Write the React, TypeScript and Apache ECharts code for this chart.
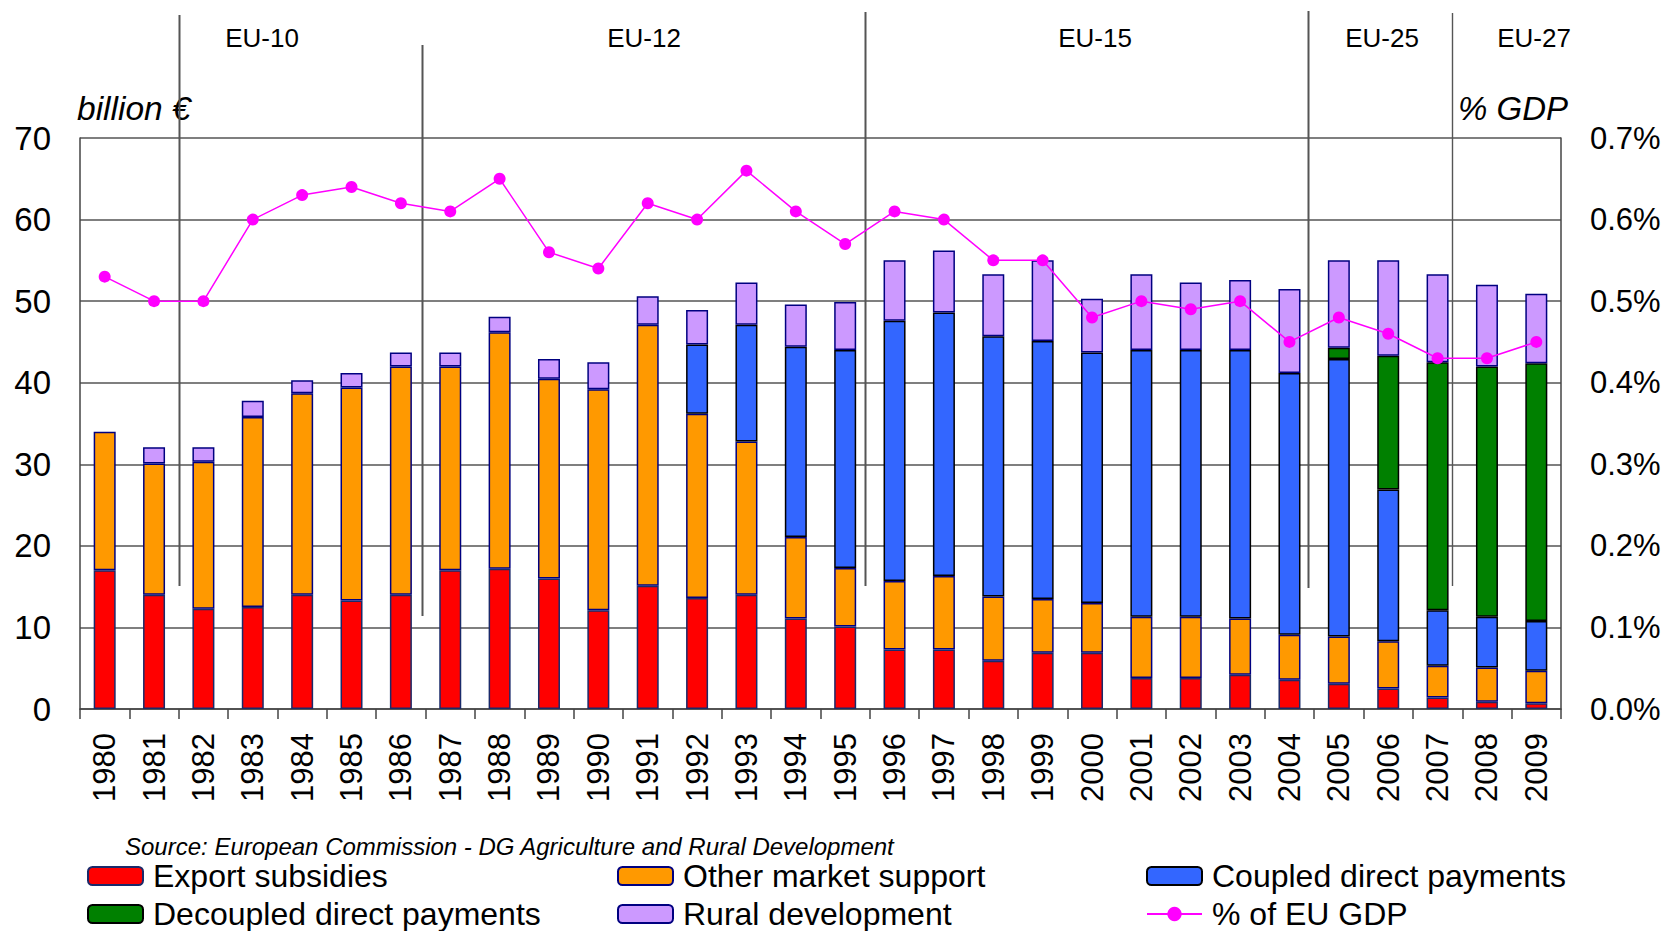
import React, { useEffect, useRef } from "react";
import * as echarts from "echarts";

// ---------- DATA ----------
const years = [
  "1980", "1981", "1982", "1983", "1984", "1985", "1986", "1987", "1988", "1989",
  "1990", "1991", "1992", "1993", "1994", "1995", "1996", "1997", "1998", "1999",
  "2000", "2001", "2002", "2003", "2004", "2005", "2006", "2007", "2008", "2009",
];

// billion €
const exportSubsidies = [
  17.0, 14.0, 12.3, 12.5, 14.0, 13.3, 14.0, 17.0, 17.2, 16.0,
  12.1, 15.1, 13.6, 14.0, 11.1, 10.1, 7.3, 7.3, 5.9, 6.9,
  6.9, 3.8, 3.8, 4.2, 3.6, 3.1, 2.5, 1.4, 0.9, 0.7,
];
const otherMarketSupport = [
  17.0, 16.1, 18.0, 23.3, 24.7, 26.1, 28.0, 25.0, 29.0, 24.5,
  27.1, 32.0, 22.6, 18.8, 10.0, 7.2, 8.4, 9.0, 7.9, 6.6,
  6.1, 7.5, 7.5, 6.9, 5.5, 5.8, 5.8, 3.9, 4.2, 4.0,
];
const coupledDirectPayments = [
  null, null, null, null, null, null, null, null, null, null,
  null, null, 8.5, 14.3, 23.3, 26.7, 31.9, 32.3, 31.9, 31.6,
  30.7, 32.7, 32.7, 32.9, 32.1, 34.0, 18.6, 6.8, 6.2, 6.1,
];
const decoupledDirectPayments = [
  null, null, null, null, null, null, null, null, null, null,
  null, null, null, null, null, null, null, null, null, null,
  null, null, null, null, null, 1.4, 16.4, 30.4, 30.7, 31.6,
];
const ruralDevelopment = [
  null, 2.0, 1.8, 2.0, 1.6, 1.8, 1.7, 1.7, 1.9, 2.4,
  3.3, 3.5, 4.2, 5.2, 5.2, 5.9, 7.4, 7.6, 7.6, 9.9,
  6.6, 9.3, 8.3, 8.6, 10.3, 10.7, 11.7, 10.8, 10.0, 8.5,
];
// % of EU GDP
const gdpShare = [
  0.53, 0.50, 0.50, 0.60, 0.63, 0.64, 0.62, 0.61, 0.65, 0.56,
  0.54, 0.62, 0.60, 0.66, 0.61, 0.57, 0.61, 0.60, 0.55, 0.55,
  0.48, 0.50, 0.49, 0.50, 0.45, 0.48, 0.46, 0.43, 0.43, 0.45,
];

const leftAxis = { min: 0, max: 70, interval: 10 };
const rightAxis = { min: 0, max: 0.7, interval: 0.1 };

// Enlargement periods: label and the category boundary where the separator sits
const periodLabels = ["EU-10", "EU-12", "EU-15", "EU-25", "EU-27"];
const periodBoundaries = [2.0, 6.92, 15.9, 24.88, 27.8];

// ---------- LAYOUT ----------
const W = 1670;
const H = 931;
const GRID = { left: 80, top: 138, right: 109, bottom: 222 };
const PLOT_W = W - GRID.left - GRID.right;
const FONT = "'Liberation Sans', Arial, Helvetica, sans-serif";

const sepTop = [15, 45, 12, 11, 13];
const sepBottom = [586, 616, 586, 588, 586];
const sepWidth = [2, 2, 2, 2, 1.4];
const labelX = [262, 644, 1095, 1382, 1534];

export default function App() {
  const ref = useRef<HTMLDivElement>(null);

  useEffect(() => {
    if (!ref.current) return;
    const chart = echarts.init(ref.current, undefined, { renderer: "svg" });

    const barBase = {
      type: "bar",
      stack: "total",
      barWidth: 22,
      yAxisIndex: 0,
    };

    const graphic: any[] = [];
    periodBoundaries.forEach((b, i) => {
      const x = Math.round(GRID.left + (PLOT_W * b) / years.length) + 0.5;
      graphic.push({
        type: "line",
        z: 1,
        shape: { x1: x, y1: sepTop[i], x2: x, y2: sepBottom[i] },
        style: { stroke: "#555555", lineWidth: sepWidth[i] },
      });
      graphic.push({
        type: "text",
        z: 5,
        x: labelX[i],
        y: 38,
        style: {
          text: periodLabels[i],
          fontSize: 26,
          fontFamily: FONT,
          fill: "#000",
          align: "center",
          verticalAlign: "middle",
        },
      });
    });
    graphic.push({
      type: "text",
      x: 77,
      y: 108,
      style: {
        text: "billion €",
        fontSize: 33.5,
        fontStyle: "italic",
        fontFamily: FONT,
        fill: "#000",
        align: "left",
        verticalAlign: "middle",
      },
    });
    graphic.push({
      type: "text",
      x: 1568,
      y: 108,
      style: {
        text: "% GDP",
        fontSize: 33,
        fontStyle: "italic",
        fontFamily: FONT,
        fill: "#000",
        align: "right",
        verticalAlign: "middle",
      },
    });
    graphic.push({
      type: "text",
      x: 125,
      y: 846,
      style: {
        text: "Source: European Commission - DG Agriculture and Rural Development",
        fontSize: 24,
        fontStyle: "italic",
        fontFamily: FONT,
        fill: "#000",
        align: "left",
        verticalAlign: "middle",
      },
    });

    const legendBase = {
      orient: "vertical",
      top: 860,
      height: 80,
      padding: 0,
      itemWidth: 55,
      itemHeight: 18,
      itemGap: 6,
      selectedMode: false,
      textStyle: {
        fontSize: 32,
        lineHeight: 32,
        fontFamily: FONT,
        color: "#000",
        padding: [0, 0, 0, 5],
      },
    };

    chart.setOption({
      animation: false,
      backgroundColor: "#ffffff",
      textStyle: { fontFamily: FONT },
      grid: { ...GRID, containLabel: false },
      legend: [
        { ...legendBase, left: 87, data: ["Export subsidies", "Decoupled direct payments"] },
        { ...legendBase, left: 617, data: ["Other market support", "Rural development"] },
        { ...legendBase, left: 1146, data: ["Coupled direct payments", "% of EU GDP"] },
      ],
      xAxis: {
        type: "category",
        data: years,
        boundaryGap: true,
        axisLine: { show: true, lineStyle: { color: "#444", width: 1.5 } },
        axisTick: { show: true, length: 10, lineStyle: { color: "#444", width: 1.5 } },
        axisLabel: {
          interval: 0,
          rotate: 90,
          margin: 24,
          fontSize: 31,
          color: "#000",
          fontFamily: FONT,
        },
        splitLine: { show: false },
      },
      yAxis: [
        {
          type: "value",
          ...leftAxis,
          position: "left",
          axisLine: { show: true, lineStyle: { color: "#444", width: 1.5 } },
          axisTick: { show: false },
          axisLabel: { fontSize: 33, color: "#000", margin: 29, fontFamily: FONT },
          splitLine: { show: true, lineStyle: { color: "#555", width: 1.5 } },
        },
        {
          type: "value",
          ...rightAxis,
          position: "right",
          axisLine: { show: true, lineStyle: { color: "#444", width: 1.5 } },
          axisTick: { show: false },
          axisLabel: {
            fontSize: 31,
            color: "#000",
            margin: 29,
            fontFamily: FONT,
            formatter: (v: number) => v.toFixed(1) + "%",
          },
          splitLine: { show: false },
        },
      ],
      graphic,
      series: [
        {
          ...barBase,
          name: "Export subsidies",
          data: exportSubsidies,
          itemStyle: { color: "#FF0000", borderColor: "#1a2a6a", borderWidth: 1.5 },
        },
        {
          ...barBase,
          name: "Other market support",
          data: otherMarketSupport,
          itemStyle: { color: "#FF9900", borderColor: "#000080", borderWidth: 1.5 },
        },
        {
          ...barBase,
          name: "Coupled direct payments",
          data: coupledDirectPayments,
          itemStyle: { color: "#3366FF", borderColor: "#000000", borderWidth: 1.5 },
        },
        {
          ...barBase,
          name: "Decoupled direct payments",
          data: decoupledDirectPayments,
          itemStyle: { color: "#008000", borderColor: "#000000", borderWidth: 1.5 },
        },
        {
          ...barBase,
          name: "Rural development",
          data: ruralDevelopment,
          itemStyle: { color: "#CC99FF", borderColor: "#000080", borderWidth: 1.5 },
        },
        {
          type: "line",
          name: "% of EU GDP",
          yAxisIndex: 1,
          data: gdpShare,
          z: 5,
          symbol: "circle",
          symbolSize: 12,
          lineStyle: { color: "#FF00FF", width: 1.5 },
          itemStyle: { color: "#FF00FF" },
        },
      ],
    });

    return () => chart.dispose();
  }, []);

  return (
    <div
      ref={ref}
      style={{ position: "fixed", left: 0, top: 0, width: W, height: H, background: "#fff" }}
    />
  );
}
